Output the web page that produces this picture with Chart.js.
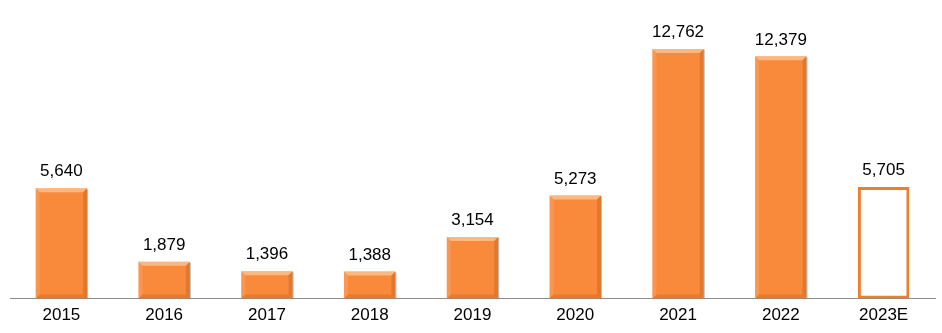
<!DOCTYPE html>
<html>
<head>
<meta charset="utf-8">
<script src="https://cdn.jsdelivr.net/npm/chart.js@4"></script>
<style>
  html, body { margin: 0; padding: 0; background: #fff; }
  #wrap { width: 942px; height: 333px; }
</style>
</head>
<body>
<div id="wrap"><canvas id="revChart" width="942" height="333"></canvas></div>
<script>
// dane z wykresu
const years = ['2015', '2016', '2017', '2018', '2019', '2020', '2021', '2022', '2023E'];
const values = [5640, 1879, 1396, 1388, 3154, 5273, 12762, 12379, 5705];
const estimateIdx = 8; // ostatni słupek to prognoza

const orange = '#F98A3B';
const fontFamily = '"Liberation Sans", Arial, sans-serif';

// etykiety wartości nad słupkami
const valueLabels = {
    id: 'valueLabels',
    afterDatasetsDraw(chart) {
        const ctx = chart.ctx;
        const meta = chart.getDatasetMeta(0);
        ctx.save();
        ctx.font = '17px ' + fontFamily;
        ctx.fillStyle = '#000';
        ctx.textAlign = 'center';
        ctx.textBaseline = 'bottom';
        meta.data.forEach((bar, i) => {
            ctx.fillText(values[i].toLocaleString('en-US'), bar.x, bar.y - 8);
        });
        ctx.restore();
    }
};

// efekt fazowania krawędzi (jak w Excelu)
const bevel = {
    id: 'bevel',
    afterDatasetDraw(chart) {
        const ctx = chart.ctx;
        const meta = chart.getDatasetMeta(0);
        const b = 4;
        ctx.save();
        meta.data.forEach((bar, i) => {
            if (i === estimateIdx) return;
            const l = bar.x - bar.width / 2, r = bar.x + bar.width / 2;
            const t = bar.y, bt = bar.base;
            // góra
            ctx.fillStyle = 'rgba(255,215,175,0.6)';
            ctx.beginPath();
            ctx.moveTo(l, t); ctx.lineTo(r, t); ctx.lineTo(r - b, t + b); ctx.lineTo(l + b, t + b); ctx.closePath();
            ctx.fill();
            // lewo
            ctx.fillStyle = 'rgba(255,200,160,0.2)';
            ctx.beginPath();
            ctx.moveTo(l, t); ctx.lineTo(l + b, t + b); ctx.lineTo(l + b, bt - b); ctx.lineTo(l, bt); ctx.closePath();
            ctx.fill();
            // prawo
            ctx.fillStyle = 'rgba(170,80,20,0.3)';
            ctx.beginPath();
            ctx.moveTo(r, t); ctx.lineTo(r - b, t + b); ctx.lineTo(r - b, bt - b); ctx.lineTo(r, bt); ctx.closePath();
            ctx.fill();
            // dół
            ctx.fillStyle = 'rgba(170,80,20,0.25)';
            ctx.beginPath();
            ctx.moveTo(l, bt); ctx.lineTo(r, bt); ctx.lineTo(r - b, bt - b); ctx.lineTo(l + b, bt - b); ctx.closePath();
            ctx.fill();
            // cień z prawej
            ctx.fillStyle = 'rgba(120,120,120,0.5)';
            ctx.fillRect(r, t + 1, 1, bt - t - 1);
        });
        ctx.restore();
    }
};

const ctx = document.getElementById('revChart').getContext('2d');
new Chart(ctx, {
    type: 'bar',
    data: {
        labels: years,
        datasets: [{
            data: values,
            backgroundColor: years.map((y, i) => i === estimateIdx ? '#fff' : orange),
            borderColor: years.map((y, i) => i === estimateIdx ? '#F07D2C' : orange),
            borderWidth: years.map((y, i) => i === estimateIdx ? 3 : 0),
            borderSkipped: false,
            categoryPercentage: 1.0,
            barPercentage: 0.5
        }]
    },
    options: {
        responsive: false,
        animation: false,
        layout: { padding: { left: 10, right: 7, top: 0, bottom: 0 } },
        plugins: {
            legend: { display: false },
            tooltip: { enabled: false }
        },
        scales: {
            y: {
                display: false,
                min: 0,
                max: 15260
            },
            x: {
                grid: { display: false, drawTicks: false },
                border: { display: true, color: '#8c8c8c', width: 1 },
                ticks: {
                    color: '#000',
                    padding: 7,
                    font: { size: 17, family: fontFamily }
                }
            }
        }
    },
    plugins: [bevel, valueLabels]
});
</script>
</body>
</html>
